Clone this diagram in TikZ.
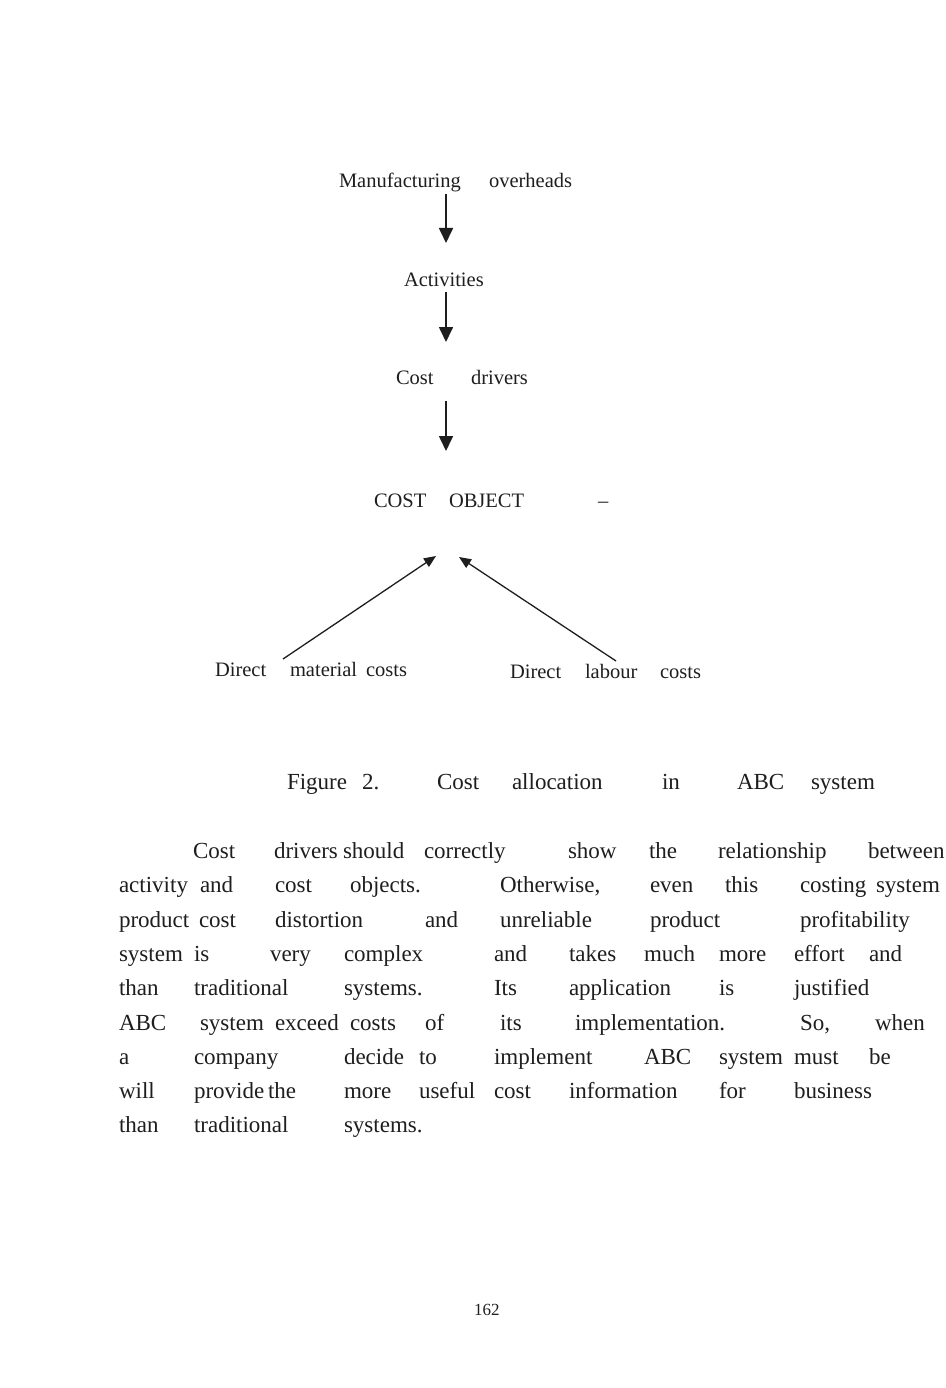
\documentclass[tikz,border=0pt]{standalone}
\usepackage{fontspec}
\setmainfont{Liberation Serif}
\usetikzlibrary{arrows.meta}
\definecolor{ink}{HTML}{1E1E1E}
\begin{document}
\begin{tikzpicture}[x=1pt,y=-1pt,
  lbl/.style={anchor=base west,inner sep=0pt,outer sep=0pt,text=ink,font=\fontsize{20.5}{20.5}\selectfont},
  pw/.style={anchor=base west,inner sep=0pt,outer sep=0pt,text=ink,font=\fontsize{23}{23}\selectfont},
  pgno/.style={anchor=base west,inner sep=0pt,outer sep=0pt,text=ink,font=\fontsize{17}{17}\selectfont},
  varr/.style={draw=ink,line width=1.7pt,-{Triangle[width=14pt,length=15pt]}},
  darr/.style={draw=ink,line width=1.3pt,-{Triangle[width=10pt,length=12pt]}}]
\path[fill=white] (0,0) rectangle (945,1388);
\useasboundingbox (0,0) rectangle (945,1388);
% diagram labels
\node[lbl] (mfg) at (339,188) {Manufacturing};
\node[lbl] (ovh) at (489,188) {overheads};
\node[lbl] (act) at (404,286) {Activities};
\node[lbl] (cst) at (396,384) {Cost};
\node[lbl] (drv) at (471,384) {drivers};
\node[lbl] (cob) at (374,507) {COST};
\node[lbl] (obj) at (449,507) {OBJECT};
\node[lbl] (dsh) at (598,507) {–};
\node[lbl] (dm1) at (215,676) {Direct};
\node[lbl] (dm2) at (290,676) {material};
\node[lbl] (dm3) at (366,676) {costs};
\node[lbl] (dl1) at (510,678) {Direct};
\node[lbl] (dl2) at (585,678) {labour};
\node[lbl] (dl3) at (660,678) {costs};
% arrow end points
\coordinate (a1s) at (446,194); \coordinate (a1e) at (446,243);
\coordinate (a2s) at (446,292); \coordinate (a2e) at (446,342);
\coordinate (a3s) at (446,401); \coordinate (a3e) at (446,451);
\coordinate (a4s) at (283,659); \coordinate (a4e) at (436,556);
\coordinate (a5s) at (616,661); \coordinate (a5e) at (459,557);
\draw[varr] (a1s) -- (a1e);
\draw[varr] (a2s) -- (a2e);
\draw[varr] (a3s) -- (a3e);
\draw[darr] (a4s) -- (a4e);
\draw[darr] (a5s) -- (a5e);
% caption
\foreach \x/\t in {287/Figure,362/2.,437/Cost,512/allocation,662/in,737/ABC,811/system}
  \node[pw] (cap-\x) at (\x,789.5) {\t};
% paragraph
\foreach \x/\t in {193/Cost,274/drivers,343/should,424/correctly,568/show,649/the,718/relationship,868/between}
  \node[pw] (r1-\x) at (\x,858.5) {\t};
\foreach \x/\t in {119/activity,200/and,275/cost,350/objects.,500/{Otherwise,},650/even,725/this,800/costing,876/system}
  \node[pw] (r2-\x) at (\x,892.8) {\t};
\foreach \x/\t in {119/product,199/cost,275/distortion,425/and,500/unreliable,650/product,800/profitability}
  \node[pw] (r3-\x) at (\x,927.1) {\t};
\foreach \x/\t in {119/system,194/is,270/very,344/complex,494/and,569/takes,644/much,719/more,794/effort,869/and}
  \node[pw] (r4-\x) at (\x,961.4) {\t};
\foreach \x/\t in {119/than,194/traditional,344/systems.,494/Its,569/application,719/is,794/justified}
  \node[pw] (r5-\x) at (\x,995.7) {\t};
\foreach \x/\t in {119/ABC,200/system,275/exceed,350/costs,425/of,500/its,575/implementation.,800/{So,},875/when}
  \node[pw] (r6-\x) at (\x,1030) {\t};
\foreach \x/\t in {119/a,194/company,344/decide,419/to,494/implement,644/ABC,719/system,794/must,869/be}
  \node[pw] (r7-\x) at (\x,1064.3) {\t};
\foreach \x/\t in {119/will,194/provide,268/the,344/more,419/useful,494/cost,569/information,719/for,794/business}
  \node[pw] (r8-\x) at (\x,1098.6) {\t};
\foreach \x/\t in {119/than,194/traditional,344/systems.}
  \node[pw] (r9-\x) at (\x,1132.9) {\t};
% page number
\node[pgno] (pg) at (474,1315) {162};
\end{tikzpicture}
\end{document}
